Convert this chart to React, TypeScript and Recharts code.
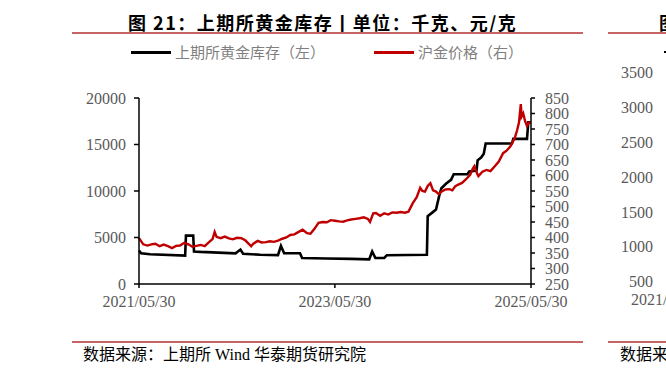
import React from "react";
import { LineChart, Line, XAxis, YAxis } from "recharts";

const priceDates = [
  "2021-05-30","2021-06-15","2021-06-30","2021-07-15","2021-07-30","2021-08-15","2021-08-30","2021-09-15","2021-09-30","2021-10-15","2021-10-30","2021-11-15","2021-11-30","2021-12-15","2021-12-30",
  "2022-01-15","2022-01-30","2022-02-15","2022-02-28","2022-03-08","2022-03-15","2022-03-30","2022-04-15","2022-04-30","2022-05-15","2022-05-30","2022-06-15","2022-06-30","2022-07-15","2022-07-22","2022-07-30","2022-08-15","2022-08-30","2022-09-15","2022-09-30","2022-10-15","2022-10-30","2022-11-15","2022-11-30","2022-12-15","2022-12-30",
  "2023-01-15","2023-01-30","2023-02-15","2023-02-28","2023-03-15","2023-03-30","2023-04-15","2023-04-30","2023-05-15","2023-05-30","2023-06-15","2023-06-30","2023-07-15","2023-07-30","2023-08-15","2023-08-30","2023-09-15","2023-09-30","2023-10-08","2023-10-20","2023-10-30","2023-11-15","2023-11-30","2023-12-15","2023-12-30",
  "2024-01-15","2024-01-30","2024-02-15","2024-02-28","2024-03-08","2024-03-15","2024-03-30","2024-04-12","2024-04-20","2024-04-30","2024-05-10","2024-05-20","2024-05-30","2024-06-10","2024-06-20","2024-06-30","2024-07-15","2024-07-30","2024-08-10","2024-08-20","2024-08-30","2024-09-15","2024-09-30","2024-10-15","2024-10-25","2024-10-31","2024-11-08","2024-11-15","2024-11-30","2024-12-15","2024-12-30",
  "2025-01-15","2025-01-30","2025-02-15","2025-02-28","2025-03-15","2025-03-30","2025-04-08","2025-04-15","2025-04-22","2025-04-25","2025-05-01","2025-05-08","2025-05-15","2025-05-22","2025-05-30",
];
const priceValues = [
  398,378,374,378,380,372,377,372,366,373,374,383,378,370,373,
  376,372,385,395,418,402,398,403,397,394,399,398,391,378,372,380,389,384,385,388,386,390,396,400,408,410,
  418,425,414,412,428,447,450,449,456,454,452,451,455,458,460,462,465,460,450,478,479,470,478,474,481,
  480,482,480,483,498,510,530,560,550,548,566,575,552,548,540,548,555,556,552,565,570,576,588,602,622,630,610,598,612,618,614,
  630,645,672,680,695,720,745,770,830,790,800,775,760,770,772,
];

const invDates = [
  "2021-05-30","2021-06-07","2021-07-10","2021-11-18","2021-11-21","2021-12-18","2021-12-21","2022-01-15","2022-05-25","2022-06-12","2022-06-22","2022-08-25","2022-10-30","2022-11-10","2022-11-22",
  "2023-01-20","2023-01-28","2023-04-28","2023-07-30","2023-10-05","2023-10-16","2023-10-28","2023-11-30","2023-12-10",
  "2024-05-07","2024-05-10","2024-05-28","2024-06-10","2024-06-22","2024-06-30","2024-07-18","2024-08-05","2024-08-15","2024-10-05","2024-10-12","2024-11-08","2024-11-12","2024-11-25","2024-12-05","2024-12-12",
  "2025-03-20","2025-03-25","2025-05-15","2025-05-20","2025-05-30",
];
const invValues = [
  3600,3300,3200,3050,5200,5200,3500,3450,3300,3700,3250,3150,3100,4100,3300,
  3300,2800,2750,2700,2650,3500,2800,2800,3100,
  3150,7300,7700,8000,9500,10300,10800,11200,11800,11800,12100,12200,13300,13600,14000,15100,
  15100,15600,15600,17400,17400,
];

const xTickLabels = ["2021-05-30", "2023-05-30", "2025-05-30"];
const leftTicks = [0, 5000, 10000, 15000, 20000];
const rightTicks = [250, 300, 350, 400, 450, 500, 550, 600, 650, 700, 750, 800, 850];
const sideTicks = ["3500", "3000", "2500", "2000", "1500", "1000", "500"];

const toTs = (s: string) => {
  const [y, m, d] = s.split("-").map(Number);
  return Date.UTC(y, m - 1, d);
};
const fmt = (t: number) => {
  const d = new Date(t);
  return `${d.getUTCFullYear()}/${String(d.getUTCMonth() + 1).padStart(2, "0")}/${String(d.getUTCDate()).padStart(2, "0")}`;
};

const priceData = priceDates.map((d, i) => ({ t: toTs(d), v: priceValues[i] }));
const invData = invDates.map((d, i) => ({ t: toTs(d), v: invValues[i] }));
const xTicks = xTickLabels.map(toTs);

const CJK = "'Noto Sans CJK SC', 'Noto Sans', sans-serif";
const SERIF = "'Liberation Serif', 'Noto Sans CJK SC', serif";
const tickStyle = { fill: "#595959", fontSize: 16, fontFamily: SERIF };
const axisStroke = { stroke: "#000", strokeWidth: 1.5 };

export default function App() {
  const sideTickY = [73, 108, 143, 178, 213, 247, 282];
  return (
    <div style={{ position: "absolute", left: 0, top: 0, width: 666, height: 372, overflow: "hidden", background: "#fff" }}>
      <div style={{ position: "absolute", left: 128, top: 12, fontFamily: CJK, fontWeight: 700, fontSize: 18, lineHeight: "20px", whiteSpace: "nowrap", color: "#000", letterSpacing: 1.5 }}>
        图 21：上期所黄金库存丨单位：千克、元/克
      </div>
      <div style={{ position: "absolute", left: 72, top: 32, width: 511, height: 2, background: "#c86464" }} />
      <div style={{ position: "absolute", left: 131, top: 51, width: 40, height: 3, background: "#000" }} />
      <div style={{ position: "absolute", left: 175, top: 43, fontFamily: CJK, fontSize: 15, lineHeight: "18px", color: "#7f7f7f", whiteSpace: "nowrap" }}>
        上期所黄金库存（左）
      </div>
      <div style={{ position: "absolute", left: 374, top: 51, width: 40, height: 3, background: "#c00000" }} />
      <div style={{ position: "absolute", left: 418, top: 43, fontFamily: CJK, fontSize: 15, lineHeight: "18px", color: "#7f7f7f", whiteSpace: "nowrap" }}>
        沪金价格（右）
      </div>

      <div style={{ position: "absolute", left: 0, top: 0 }}>
        <LineChart width={666} height={372} margin={{ top: 98, right: 0, bottom: 58, left: 0 }}>
          <XAxis
            dataKey="t"
            type="number"
            domain={[xTicks[0], xTicks[2]]}
            ticks={xTicks}
            tickFormatter={fmt}
            height={30}
            tickSize={4}
            tickMargin={8}
            axisLine={axisStroke}
            tickLine={axisStroke}
            tick={tickStyle}
            interval={0}
          />
          <YAxis
            yAxisId="left"
            domain={[0, 20000]}
            ticks={leftTicks}
            width={139}
            tickSize={5}
            tickMargin={8}
            axisLine={axisStroke}
            tickLine={axisStroke}
            tick={tickStyle}
            interval={0}
          />
          <YAxis
            yAxisId="right"
            orientation="right"
            domain={[250, 850]}
            ticks={rightTicks}
            width={135}
            tickSize={4}
            tickMargin={10}
            axisLine={axisStroke}
            tickLine={axisStroke}
            tick={{ ...tickStyle, textAnchor: "start" }}
            interval={0}
          />
          <Line yAxisId="left" data={invData} dataKey="v" type="linear" stroke="#000" strokeWidth={2.6} dot={false} isAnimationActive={false} />
          <Line yAxisId="right" data={priceData} dataKey="v" type="linear" stroke="#c00000" strokeWidth={2.4} dot={false} isAnimationActive={false} />
        </LineChart>
      </div>

      <div style={{ position: "absolute", left: 72, top: 341, width: 511, height: 2, background: "#c86464" }} />
      <div style={{ position: "absolute", left: 83, top: 346, fontFamily: SERIF, fontSize: 16, lineHeight: "18px", color: "#000", whiteSpace: "nowrap" }}>
        数据来源：上期所 Wind 华泰期货研究院
      </div>

      {/* neighbouring chart, cut off at the right edge */}
      <div style={{ position: "absolute", left: 659, top: 12, fontFamily: CJK, fontWeight: 700, fontSize: 18, lineHeight: "20px", whiteSpace: "nowrap", color: "#000" }}>
        图 22
      </div>
      <div style={{ position: "absolute", left: 608, top: 32, width: 58, height: 2, background: "#c86464" }} />
      <div style={{ position: "absolute", left: 664, top: 51, width: 10, height: 2, background: "#000" }} />
      {sideTicks.map((s, i) => (
        <div key={s} style={{ position: "absolute", left: 600, width: 53, top: sideTickY[i] - 9, textAlign: "right", fontFamily: SERIF, fontSize: 16, lineHeight: "18px", color: "#595959" }}>
          {s}
        </div>
      ))}
      <div style={{ position: "absolute", left: 631, top: 291, fontFamily: SERIF, fontSize: 16, lineHeight: "18px", color: "#595959", whiteSpace: "nowrap" }}>
        2021/05/30
      </div>
      <div style={{ position: "absolute", left: 608, top: 341, width: 58, height: 2, background: "#c86464" }} />
      <div style={{ position: "absolute", left: 620, top: 346, fontFamily: SERIF, fontSize: 16, lineHeight: "18px", color: "#000", whiteSpace: "nowrap" }}>
        数据来源
      </div>
    </div>
  );
}
